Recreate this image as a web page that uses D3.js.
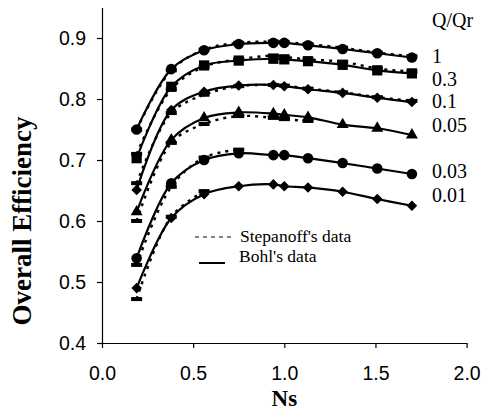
<!DOCTYPE html>
<html>
<head>
<meta charset="utf-8">
<script src="https://cdn.jsdelivr.net/npm/d3@7/dist/d3.min.js"></script>
<style>
  html, body { margin: 0; padding: 0; background: #fff; }
  svg { display: block; }
</style>
</head>
<body>
<svg id="chart" width="481" height="412"></svg>
<script>
// Specific speed values shared by every series
const ns = [0.19, 0.38, 0.56, 0.75, 0.94, 1.00, 1.13, 1.32, 1.51, 1.70];

// Flow ratio labels, top to bottom
const qLabels = ["1", "0.3", "0.1", "0.05", "0.03", "0.01"];

// Bohl's data (solid lines)
const bohlQ1   = [0.750, 0.849, 0.880, 0.890, 0.892, 0.892, 0.888, 0.882, 0.875, 0.868];
const bohlQ03  = [0.703, 0.820, 0.855, 0.863, 0.866, 0.865, 0.862, 0.856, 0.847, 0.842];
const bohlQ01  = [0.651, 0.782, 0.812, 0.822, 0.823, 0.821, 0.816, 0.810, 0.802, 0.795];
const bohlQ005 = [0.615, 0.733, 0.769, 0.778, 0.776, 0.774, 0.770, 0.758, 0.752, 0.741];
const bohlQ003 = [0.539, 0.662, 0.700, 0.711, 0.708, 0.708, 0.703, 0.695, 0.686, 0.677];
const bohlQ001 = [0.490, 0.605, 0.644, 0.657, 0.660, 0.657, 0.655, 0.648, 0.636, 0.625];

// Stepanoff's data (dotted lines)
const stepQ1   = [0.750, 0.847, 0.881, 0.892, 0.894, 0.893, 0.890, 0.884, 0.876, 0.870];
const stepQ03  = [0.710, 0.816, 0.853, 0.865, 0.871, 0.869, 0.865, 0.861, 0.850, 0.845];
const stepQ01  = [0.662, 0.777, 0.807, 0.821, 0.823, 0.822, 0.817, 0.811, 0.803, 0.797];
const stepQ005 = [0.600, 0.728, 0.759, 0.772, 0.769, 0.767, 0.764];
const stepQ003 = [0.528, 0.656, 0.704, 0.717];
const stepQ001 = [0.472, 0.607, 0.649];

// Axis ticks
const xTicks = [0.0, 0.5, 1.0, 1.5, 2.0];
const yTicks = [0.4, 0.5, 0.6, 0.7, 0.8, 0.9];

const bohl = [bohlQ1, bohlQ03, bohlQ01, bohlQ005, bohlQ003, bohlQ001];
const step = [stepQ1, stepQ03, stepQ01, stepQ005, stepQ003, stepQ001];
const markerTypes = ["circle", "square", "diamond", "triangle", "circle", "diamond"];

const svg = d3.select("#chart");

const x = d3.scaleLinear().domain([0, 2]).range([102, 466.6]);
const y = d3.scaleLinear().domain([0.4, 0.95]).range([343, 7.5]);

// Axes
const xAxis = svg.append("g")
  .attr("transform", `translate(0,${y(0.4)})`)
  .call(d3.axisBottom(x).tickValues(xTicks).tickFormat(d3.format(".1f"))
        .tickSize(5).tickSizeOuter(0).tickPadding(18));
const yAxis = svg.append("g")
  .attr("transform", `translate(${x(0)},0)`)
  .call(d3.axisLeft(y).tickValues(yTicks).tickFormat(d3.format(".1f"))
        .tickSize(5).tickSizeOuter(0).tickPadding(11));

[xAxis, yAxis].forEach(g => {
  g.selectAll("path, line").attr("stroke", "#000").attr("stroke-width", 1.2);
  g.selectAll("text")
    .attr("font-family", "'Liberation Sans', Arial, sans-serif")
    .attr("font-size", 19.5)
    .attr("fill", "#000");
});

// Axis titles
const serif = "'Liberation Serif', 'Times New Roman', serif";
svg.append("text")
  .attr("transform", `translate(31,221) rotate(-90)`)
  .attr("text-anchor", "middle")
  .attr("font-family", serif)
  .attr("font-weight", "bold")
  .attr("font-size", 27)
  .text("Overall Efficiency");

svg.append("text")
  .attr("x", x(1.0))
  .attr("y", 406)
  .attr("text-anchor", "middle")
  .attr("font-family", serif)
  .attr("font-weight", "bold")
  .attr("font-size", 23)
  .text("Ns");

// Smooth curve generator
const line = d3.line()
  .x((d, i) => x(ns[i]))
  .y(d => y(d))
  .curve(d3.curveCatmullRom.alpha(0.5));

const plot = svg.append("g");

// Stepanoff's curves, dotted, with dash markers
step.forEach(vals => {
  plot.append("path")
    .attr("d", line(vals))
    .attr("fill", "none")
    .attr("stroke", "#000")
    .attr("stroke-width", 2.4)
    .attr("stroke-dasharray", "3,5");
  plot.selectAll(null)
    .data(vals)
    .enter().append("rect")
    .attr("x", (d, i) => x(ns[i]) - 5.5)
    .attr("y", d => y(d) - 2)
    .attr("width", 11)
    .attr("height", 4)
    .attr("fill", "#000");
});

// Bohl's curves, solid, with markers
const symbolFor = {
  circle:   d3.symbol().type(d3.symbolCircle).size(88),
  square:   d3.symbol().type(d3.symbolSquare).size(105),
  diamond:  d3.symbol().type(d3.symbolSquare).size(56),
  triangle: d3.symbol().type(d3.symbolTriangle).size(62)
};

bohl.forEach((vals, k) => {
  plot.append("path")
    .attr("d", line(vals))
    .attr("fill", "none")
    .attr("stroke", "#000")
    .attr("stroke-width", 2.2);
  const type = markerTypes[k];
  plot.selectAll(null)
    .data(vals)
    .enter().append("path")
    .attr("d", symbolFor[type]())
    .attr("transform", (d, i) =>
      `translate(${x(ns[i])},${y(d)})` + (type === "diamond" ? " rotate(45)" : ""))
    .attr("fill", "#000");
});

// Series labels on the right
svg.append("text")
  .attr("x", 432).attr("y", 27)
  .attr("font-family", serif).attr("font-size", 20)
  .text("Q/Qr");
const labelY = [63, 86, 108, 131.5, 178, 201.5];
qLabels.forEach((t, k) => {
  svg.append("text")
    .attr("x", 432).attr("y", labelY[k])
    .attr("font-family", serif).attr("font-size", 20)
    .text(t);
});

// Legend
const legend = svg.append("g");
legend.append("line")
  .attr("x1", 195).attr("x2", 233).attr("y1", 237).attr("y2", 237)
  .attr("stroke", "#000").attr("stroke-width", 1.2).attr("stroke-dasharray", "4,4");
legend.append("line")
  .attr("x1", 199).attr("x2", 225).attr("y1", 263).attr("y2", 263)
  .attr("stroke", "#000").attr("stroke-width", 2);
legend.append("text")
  .attr("x", 240).attr("y", 242)
  .attr("font-family", serif).attr("font-size", 17.5)
  .text("Stepanoff's data");
legend.append("text")
  .attr("x", 239).attr("y", 262)
  .attr("font-family", serif).attr("font-size", 17.5)
  .text("Bohl's data");
</script>
</body>
</html>
